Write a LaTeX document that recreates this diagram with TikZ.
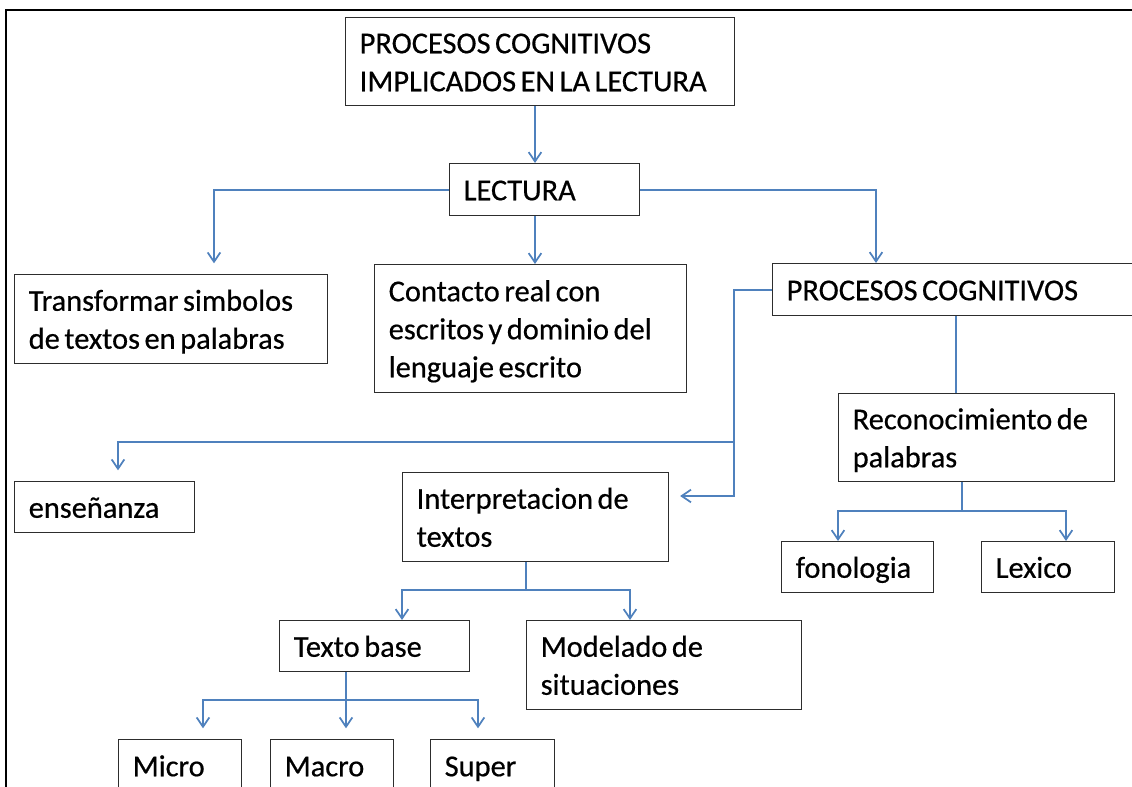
\documentclass[tikz,border=0pt]{standalone}
\usepackage{fontspec}
\setmainfont{Carlito}[FakeBold=0.5]
\usetikzlibrary{arrows.meta}
\definecolor{linkblue}{RGB}{79,129,189}
\definecolor{boxgray}{RGB}{45,45,45}
\newcommand\boxstrut{\rule[-6.1pt]{0pt}{28pt}}
\newcommand\boxstart{\spaceskip=0.15em plus 0.05em\relax\boxstrut}

\begin{document}
\begin{tikzpicture}[x=0.75pt, y=-0.75pt,
	every node/.style={font=\fontsize{22.8}{28.5}\selectfont},
	boxsize/.code 2 args={\pgfmathsetlengthmacro\boxw{(#1-28)*0.75pt}\pgfmathsetlengthmacro\boxh{#2*0.75pt}\pgfkeysalso{text width=\boxw, minimum height=\boxh}},
	box/.style 2 args={draw=boxgray, line width=1.1pt, rectangle, anchor=north west, align=left, inner xsep=10.5pt, inner ysep=0pt, boxsize={#1}{#2}, execute at begin node=\boxstart, execute at end node=\boxstrut},
	link/.style={draw=linkblue, line width=1.3pt, -{Straight Barb[length=7pt, width=9.5pt]}},
	plain/.style={draw=linkblue, line width=1.3pt},
	short/.style={shorten >=8pt}]
	\useasboundingbox (0,0) rectangle (1132,787);
	\clip (0,0) rectangle (1132,787);
	\draw[line width=1.8pt] (6,787) -- (6,10) -- (1132,10);

	\node[box={389}{88}] (title) at (345,17) {PROCESOS COGNITIVOS\\IMPLICADOS EN LA LECTURA};
	\node[box={190}{52}] (lect) at (449,163) {LECTURA};
	\node[box={313}{89}] (transf) at (14,274) {Transformar simbolos\\de textos en palabras};
	\node[box={312}{128}] (cont) at (374,264) {Contacto real con\\escritos y dominio del\\lenguaje escrito};
	\node[box={400}{52}] (pc) at (772,263) {PROCESOS COGNITIVOS};
	\node[box={180}{51}] (ense) at (14,481) {enseñanza};
	\node[box={266}{89}] (interp) at (402,472) {Interpretacion de\\textos};
	\node[box={276}{88}] (recon) at (838,393) {Reconocimiento de\\palabras};
	\node[box={152}{51}] (fono) at (781,541) {fonologia};
	\node[box={133}{51}] (lex) at (981,541) {Lexico};
	\node[box={190}{51}] (tbase) at (279,620) {Texto base};
	\node[box={275}{89}] (model) at (526,620) {Modelado de\\situaciones};
	\node[box={123}{52}] (micro) at (118,739) {Micro};
	\node[box={123}{52}] (macro) at (270,739) {Macro};
	\node[box={124}{52}] (super) at (430,739) {Super};

	\coordinate (xLect) at (535,0);
	\coordinate (xTransf) at (214,0);
	\coordinate (xPc) at (876,0);
	\coordinate (pcTurn) at (734,496);
	\coordinate (pcFork) at (734,442);
	\coordinate (xEnse) at (118,0);
	\coordinate (xRecon) at (956,0);
	\coordinate (reconFork) at (962,511);
	\coordinate (xFono) at (838,0);
	\coordinate (xLex) at (1066,0);
	\coordinate (interpFork) at (526,590);
	\coordinate (xTbase) at (402,0);
	\coordinate (xModel) at (630,0);
	\coordinate (tbaseFork) at (346,700);
	\coordinate (xMicro) at (203,0);
	\coordinate (xSuper) at (478,0);

	\draw[link] (title.south -| xLect) -- (lect.north -| xLect);
	\draw[link] (lect.south -| xLect) -- (cont.north -| xLect);
	\draw[link, short] (lect.west) -| (transf.north -| xTransf);
	\draw[link] (lect.east) -| (pc.north -| xPc);
	\draw[link, short] (pc.west) -| (pcTurn) -- (interp.east |- pcTurn);
	\draw[link, short] (pcFork) -| (ense.north -| xEnse);
	\draw[plain] (pc.south -| xRecon) -- (recon.north -| xRecon);
	\draw[plain] (recon.south -| reconFork) -- (reconFork);
	\draw[link] (reconFork) -| (fono.north -| xFono);
	\draw[link] (reconFork) -| (lex.north -| xLex);
	\draw[plain] (interp.south -| interpFork) -- (interpFork);
	\draw[link] (interpFork) -| (tbase.north -| xTbase);
	\draw[link] (interpFork) -| (model.north -| xModel);
	\draw[plain] (tbase.south -| tbaseFork) -- (tbaseFork);
	\draw[link, short] (tbaseFork) -| (micro.north -| xMicro);
	\draw[link, short] (tbaseFork) -- (macro.north -| tbaseFork);
	\draw[link, short] (tbaseFork) -| (super.north -| xSuper);
\end{tikzpicture}
\end{document}
